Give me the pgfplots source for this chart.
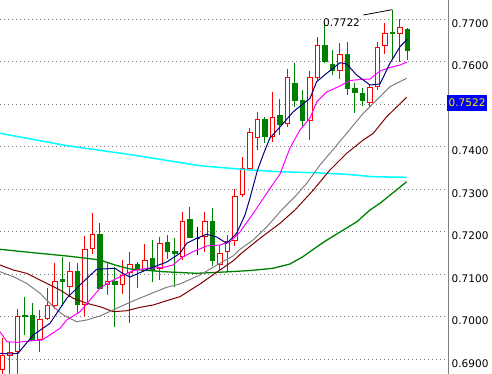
\documentclass[border=0pt]{standalone}
\usepackage{pgfplots}
\pgfplotsset{compat=1.18}
\usepackage{pgfplotstable}
\usepackage{fontspec}
\newfontfamily\dejavu{DejaVu Sans}
\definecolor{cgreen}{RGB}{0,128,0}
\definecolor{cred}{RGB}{255,0,0}
\definecolor{maNavy}{RGB}{0,0,128}
\definecolor{maMag}{RGB}{255,0,255}
\definecolor{maGray}{RGB}{128,128,128}
\definecolor{maMaroon}{RGB}{128,0,0}
\definecolor{maCyan}{RGB}{0,255,255}
\definecolor{gridgray}{RGB}{120,120,120}
\definecolor{axgray}{RGB}{128,128,128}

% candles: index, low, body bottom, body top, high, type (1 red hollow, 2 green filled, 3 black doji)
\pgfplotstableread{
i l b t h c
0 0.6862 0.68758 0.69071 0.69494 1
1 0.6862 0.69094 0.69148 0.69407 1
2 0.6862 0.69172 0.69995 0.70169 1
3 0.69565 0.70000 0.70030 0.70466 2
4 0.69431 0.69431 0.70012 0.70311 2
5 0.69172 0.69464 0.69934 0.70153 1
6 0.69918 0.69948 0.70264 0.70664 1
7 0.70169 0.70264 0.70812 0.71266 1
8 0.70247 0.70812 0.70859 0.71393 2
9 0.70466 0.70701 0.71064 0.71289 1
10 0.70089 0.70271 0.71054 0.71266 2
11 0.70012 0.70271 0.71565 0.71894 1
12 0.71471 0.71605 0.71941 0.72428 1
13 0.70664 0.70664 0.71918 0.72193 2
14 0.70506 0.70758 0.70819 0.71289 1
15 0.69746 0.70758 0.70835 0.71158 2
16 0.70529 0.70758 0.70976 0.71329 1
17 0.69854 0.71040 0.71212 0.71525 1
18 0.70664 0.71111 0.71235 0.71289 2
19 0.71078 0.71094 0.71329 0.71706 1
20 0.70819 0.71094 0.71353 0.71800 2
21 0.70859 0.71134 0.71722 0.71864 1
22 0.71353 0.71525 0.71736 0.71918 2
23 0.70687 0.71487 0.71525 0.71840 2
24 0.71329 0.71407 0.72231 0.72466 1
25 0.71864 0.71864 0.72271 0.72584 2
26 0.71447 0.71840 0.71840 0.72113 3
27 0.71525 0.71878 0.72231 0.72452 1
28 0.71188 0.71306 0.72231 0.72546 2
29 0.71078 0.71212 0.71471 0.71682 1
30 0.71078 0.71525 0.71760 0.71918 1
31 0.71659 0.71800 0.72835 0.72993 1
32 0.72819 0.72875 0.73487 0.73760 1
33 0.73487 0.73487 0.74334 0.74442 1
34 0.73918 0.74216 0.74647 0.74819 1
35 0.74075 0.74231 0.74647 0.74701 2
36 0.74113 0.74247 0.74687 0.75275 1
37 0.74271 0.74506 0.74741 0.75118 2
38 0.74466 0.74546 0.75628 0.75824 1
39 0.74922 0.75094 0.75471 0.75958 2
40 0.74452 0.74607 0.75094 0.75329 2
41 0.74153 0.74607 0.75628 0.75784 1
42 0.75565 0.75628 0.76388 0.76584 1
43 0.75958 0.75995 0.76365 0.76936 2
44 0.75682 0.75800 0.75941 0.76271 2
45 0.75581 0.75800 0.76153 0.76442 1
46 0.75212 0.75369 0.76153 0.76466 2
47 0.74781 0.75266 0.75353 0.75487 2
48 0.74953 0.75078 0.75252 0.75369 2
49 0.74922 0.75040 0.75393 0.75471 1
50 0.75329 0.75407 0.76334 0.76466 1
51 0.76176 0.76365 0.76664 0.76913 1
52 0.76052 0.76654 0.76694 0.77220 2
53 0.75995 0.76664 0.76805 0.76993 1
54 0.76035 0.76254 0.76758 0.76781 2
}\candles

\pgfplotstableread{
x y
-0.31 0.69134
1.03 0.69118
2.09 0.69134
4.13 0.69565
6.36 0.69840
8.59 0.70428
10.80 0.70819
12.59 0.71111
15.03 0.71134
15.96 0.71024
17.03 0.70929
19.69 0.71134
21.92 0.71282
23.69 0.71487
24.59 0.71722
25.92 0.71840
27.25 0.71934
28.59 0.71871
29.92 0.71722
31.25 0.71958
32.36 0.72388
33.03 0.72788
34.03 0.73447
35.03 0.73918
35.69 0.74200
37.03 0.74459
38.80 0.74819
41.03 0.75134
41.92 0.75525
43.25 0.75722
45.03 0.75972
45.92 0.75941
47.25 0.75682
49.03 0.75447
50.36 0.75471
51.69 0.75958
53.03 0.76348
54.00 0.76522
}\maNavyT

\pgfplotstableread{
x y
-0.31 0.69642
0.63 0.69407
1.96 0.69393
4.09 0.69431
5.29 0.69447
6.36 0.69565
7.69 0.69722
8.59 0.69918
10.36 0.70113
11.69 0.70388
13.03 0.70664
14.36 0.70819
15.69 0.70936
17.43 0.71078
19.29 0.71134
21.43 0.71153
22.76 0.71212
23.96 0.71393
25.43 0.71525
27.29 0.71659
29.03 0.71682
30.36 0.71760
31.69 0.71988
33.47 0.72428
35.25 0.72899
37.03 0.73353
38.36 0.73965
39.69 0.74388
41.03 0.74671
41.92 0.75047
43.25 0.75282
45.03 0.75424
46.36 0.75553
47.69 0.75576
49.03 0.75588
50.36 0.75776
51.69 0.75859
53.03 0.75918
53.96 0.75988
}\maMagT

\pgfplotstableread{
x y
-0.31 0.71054
1.47 0.70936
3.25 0.70781
5.03 0.70546
6.80 0.70231
8.13 0.70035
9.92 0.69878
11.25 0.69918
13.03 0.70012
15.25 0.70193
17.03 0.70334
19.69 0.70530
21.92 0.70687
23.69 0.70765
26.36 0.70976
28.63 0.71212
30.76 0.71424
31.69 0.71581
33.43 0.71800
35.29 0.72113
37.25 0.72506
39.03 0.72819
40.59 0.73134
42.36 0.73565
43.69 0.73840
45.92 0.74311
48.13 0.74781
49.92 0.75094
51.69 0.75407
53.92 0.75605
}\maGrayT

\pgfplotstableread{
x y
-0.31 0.71212
1.47 0.71094
3.25 0.71016
5.47 0.70819
7.69 0.70624
9.47 0.70428
11.25 0.70311
13.03 0.70231
14.80 0.70113
16.59 0.70136
18.36 0.70216
20.13 0.70271
21.92 0.70372
23.69 0.70466
26.36 0.70765
28.63 0.71047
30.76 0.71306
31.69 0.71459
34.36 0.71840
37.03 0.72193
39.03 0.72506
41.47 0.72976
43.69 0.73447
45.92 0.73840
48.13 0.74153
49.47 0.74311
51.25 0.74701
53.92 0.75158
}\maMaroonT

\pgfplotstableread{
x y
-0.31 0.71581
4.13 0.71501
8.59 0.71424
11.25 0.71369
13.03 0.71329
15.03 0.71212
17.03 0.71118
21.47 0.71054
25.92 0.71016
30.36 0.71054
33.03 0.71082
36.09 0.71134
38.36 0.71235
40.09 0.71407
41.96 0.71642
43.29 0.71800
47.29 0.72231
49.03 0.72506
50.36 0.72664
53.92 0.73172
}\maGreenT

\pgfplotstableread{
x y
-0.31 0.74311
8.63 0.74019
17.43 0.73800
26.36 0.73548
33.03 0.73447
37.03 0.73407
41.43 0.73384
45.92 0.73346
49.43 0.73289
53.92 0.73275
}\maCyanT

\newcommand\chartfont{\dejavu\fontsize{10.5bp}{12bp}\selectfont}

\begin{document}
\begin{tikzpicture}
\useasboundingbox (0,0) rectangle (492bp,374bp);
\begin{axis}[
  at={(0,0)}, anchor=south west,
  width=448bp, height=374bp, scale only axis,
  xmin=-0.307, xmax=59.43,
  ymin=0.686471, ymax=0.774471,
  axis x line=none,
  axis y line*=right,
  y axis line style={draw=axgray, line width=1bp},
  ytick={0.69,0.70,0.71,0.72,0.73,0.74,0.75,0.76,0.77},
  yticklabels={0.6900,0.7000,0.7100,0.7200,0.7300,0.7400,,0.7600,0.7700},
  yticklabel style={font=\chartfont, anchor=north west, inner sep=0pt, xshift=3.5bp, yshift=-0.5bp},
  major tick length=0pt,
  ymajorgrids,
  grid style={draw=gridgray, line width=1bp, dash pattern=on 1bp off 3bp},
  after end axis/.code={
    \node[fill=blue, text=yellow, anchor=north west, inner xsep=1.5bp, inner ysep=4.3bp,
      font=\chartfont, xshift=-1bp] at (axis cs:59.43,0.7522) {0.7522};
  },
]
\pgfplotstablegetrowsof{\candles}
\pgfmathtruncatemacro{\nrows}{\pgfplotsretval-1}
\pgfplotsforeachungrouped \k in {0,...,\nrows}{%
  \pgfplotstablegetelem{\k}{i}\of\candles \edef\ci{\pgfplotsretval}%
  \pgfplotstablegetelem{\k}{l}\of\candles \edef\cl{\pgfplotsretval}%
  \pgfplotstablegetelem{\k}{b}\of\candles \edef\cb{\pgfplotsretval}%
  \pgfplotstablegetelem{\k}{t}\of\candles \edef\ct{\pgfplotsretval}%
  \pgfplotstablegetelem{\k}{h}\of\candles \edef\ch{\pgfplotsretval}%
  \pgfplotstablegetelem{\k}{c}\of\candles \edef\cc{\pgfplotsretval}%
  \pgfmathsetmacro{\xa}{\ci-0.3}%
  \pgfmathsetmacro{\xb}{\ci+0.3}%
  \ifcase\cc\relax
  \or \def\col{cred}\def\fil{white}%
  \or \def\col{cgreen}\def\fil{cgreen}%
  \or \def\col{black}\def\fil{black}%
  \fi
  \edef\temp{%
    \noexpand\addplot[\col, line width=1bp, forget plot] coordinates {(\ci,\cl) (\ci,\cb)};
    \noexpand\addplot[\col, line width=1bp, forget plot] coordinates {(\ci,\ct) (\ci,\ch)};
    \noexpand\addplot[draw=\col, fill=\fil, line width=1bp, forget plot] coordinates {(\xa,\cb) (\xb,\cb) (\xb,\ct) (\xa,\ct)} --cycle;
  }%
  \temp
}
\addplot[maCyan, line width=1.5bp] table[x=x, y=y] {\maCyanT};
\addplot[cgreen, line width=1.3bp] table[x=x, y=y] {\maGreenT};
\addplot[maMaroon, line width=1bp] table[x=x, y=y] {\maMaroonT};
\addplot[maGray, line width=1bp] table[x=x, y=y] {\maGrayT};
\addplot[maMag, line width=1bp] table[x=x, y=y] {\maMagT};
\addplot[maNavy, line width=1bp] table[x=x, y=y] {\maNavyT};
\node[font=\chartfont, anchor=west, inner sep=0pt] at (axis cs:42.76,0.76906) {0.7722};
\draw[black, line width=0.8bp] (axis cs:48.13,0.77094) -- (axis cs:52,0.7722);
\end{axis}
\end{tikzpicture}
\end{document}
